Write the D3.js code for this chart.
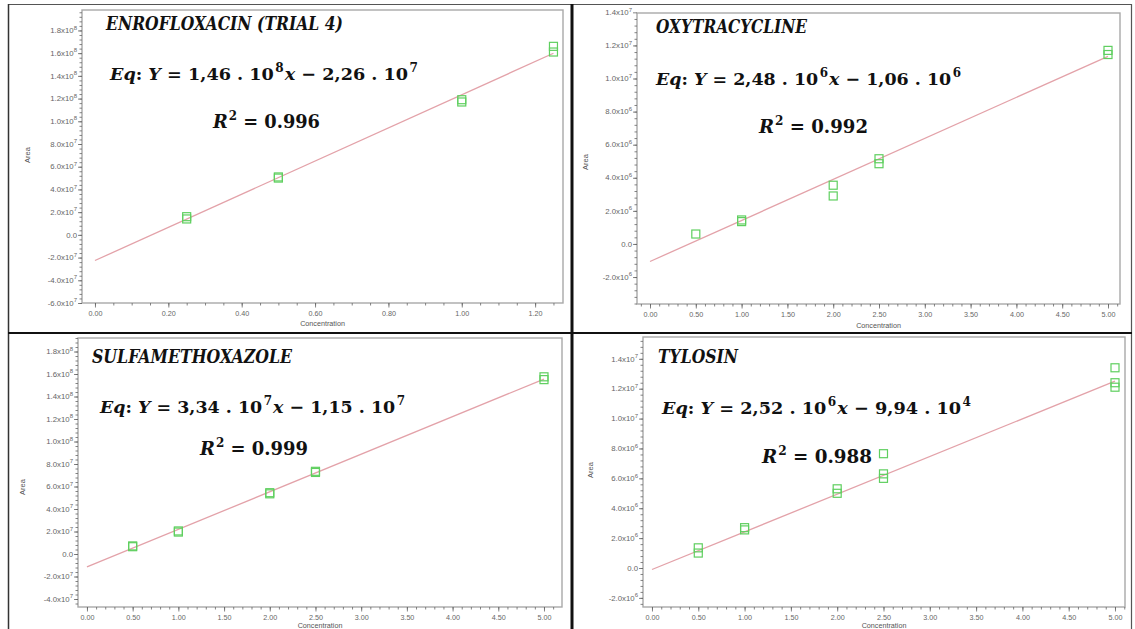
<!DOCTYPE html>
<html><head><meta charset="utf-8">
<script src="https://cdn.jsdelivr.net/npm/d3@7"></script>
<style>body{margin:0;background:#fff}svg{display:block}</style>
</head><body><svg id="c" width="1135" height="629"></svg>
<script>
// ---------------- data ----------------
const titles = ["ENROFLOXACIN (TRIAL 4)", "OXYTRACYCLINE", "SULFAMETHOXAZOLE", "TYLOSIN"];
const slopeMant = ["1,46", "2,48", "3,34", "2,52"];
const slopeExp = ["8", "6", "7", "6"];
const interMant = ["2,26", "1,06", "1,15", "9,94"];
const interExp = ["7", "6", "7", "4"];
const r2Labels = ["0.996", "0.992", "0.999", "0.988"];
const slopes = [1.46e8, 2.48e6, 3.34e7, 2.52e6];
const intercepts = [-2.26e7, -1.06e6, -1.15e7, -9.94e4];
const lineEnd = [1.25, 5, 5, 5];

const enroConc = [0.25, 0.25, 0.5, 0.5, 1.0, 1.0, 1.25, 1.25];
const enroArea = [1.4e7, 1.6e7, 5.0e7, 5.1e7, 1.17e8, 1.19e8, 1.61e8, 1.66e8];
const oxyConc = [0.5, 1, 1, 2, 2, 2.5, 2.5, 5, 5];
const oxyArea = [0.6e6, 1.35e6, 1.45e6, 2.9e6, 3.55e6, 4.85e6, 5.15e6, 11.45e6, 11.7e6];
const sulfaConc = [0.5, 0.5, 1, 1, 2, 2, 2.5, 2.5, 5, 5];
const sulfaArea = [6.5e6, 7.2e6, 19.5e6, 20.5e6, 53.5e6, 54.5e6, 72.5e6, 73.5e6, 155e6, 157.5e6];
const tyloConc = [0.5, 0.5, 1, 1, 2, 2, 2.5, 2.5, 2.5, 5, 5, 5];
const tyloArea = [1.0e6, 1.35e6, 2.55e6, 2.7e6, 5.0e6, 5.3e6, 6.0e6, 6.3e6, 7.65e6, 12.1e6, 12.4e6, 13.4e6];

const enroXTicks = [0, 0.2, 0.4, 0.6, 0.8, 1.0, 1.2];
const fiveXTicks = [0, 0.5, 1, 1.5, 2, 2.5, 3, 3.5, 4, 4.5, 5];
const enroYTicks = [-6e7, -4e7, -2e7, 0, 2e7, 4e7, 6e7, 8e7, 1e8, 1.2e8, 1.4e8, 1.6e8, 1.8e8];
const oxyYTicks = [-2e6, 0, 2e6, 4e6, 6e6, 8e6, 1e7, 1.2e7, 1.4e7];
const sulfaYTicks = [-4e7, -2e7, 0, 2e7, 4e7, 6e7, 8e7, 1e8, 1.2e8, 1.4e8, 1.6e8, 1.8e8];
const tyloYTicks = [-2e6, 0, 2e6, 4e6, 6e6, 8e6, 1e7, 1.2e7, 1.4e7];
const xAxisTitle = "Concentration";
const yAxisTitle = "Area";

// ---------------- layout ----------------
const panels = [
  {conc: enroConc, area: enroArea, xt: enroXTicks, yt: enroYTicks, xMinor: 0.05, yMinor: 4e6,
   rect: [82, 10, 563, 303], xd: [-0.0354, 1.276], yd: [-6e7, 1.98e8],
   title: [106, 30, 237], eq: [110, 80, 308], r2: [213, 128, 107], areaLab: [30, 155], concY: 326},
  {conc: oxyConc, area: oxyArea, xt: fiveXTicks, yt: oxyYTicks, xMinor: 0.1, yMinor: 4e5,
   rect: [637, 13, 1120, 304], xd: [-0.142, 5.131], yd: [-3.63e6, 1.396e7],
   title: [656, 33, 151], eq: [656, 85, 305], r2: [759, 133, 109], areaLab: [588, 162], concY: 328},
  {conc: sulfaConc, area: sulfaArea, xt: fiveXTicks, yt: sulfaYTicks, xMinor: 0.1, yMinor: 4e6,
   rect: [78, 338, 562, 607], xd: [-0.098, 5.197], yd: [-4.71e7, 1.92e8],
   title: [92, 363, 200], eq: [100, 413, 305], r2: [200, 455, 108], areaLab: [25, 487], concY: 628},
  {conc: tyloConc, area: tyloArea, xt: fiveXTicks, yt: tyloYTicks, xMinor: 0.1, yMinor: 4e5,
   rect: [643, 337, 1125, 607], xd: [-0.097, 5.108], yd: [-2.61e6, 1.546e7],
   title: [658, 363, 80], eq: [662, 414, 309], r2: [762, 463, 110], areaLab: [593, 470], concY: 628}
];

const svg = d3.select("#c");
svg.append("rect").attr("width", 1135).attr("height", 629).attr("fill", "#fff");

// outer frame and dividers
const frame = svg.append("g");
frame.append("line").attr("x1", 8).attr("x2", 1132).attr("y1", 4.5).attr("y2", 4.5).attr("stroke", "#555").attr("stroke-width", 1.2);
frame.append("line").attr("x1", 8.5).attr("x2", 8.5).attr("y1", 4).attr("y2", 629).attr("stroke", "#333").attr("stroke-width", 1.5);
frame.append("line").attr("x1", 1131.5).attr("x2", 1131.5).attr("y1", 4).attr("y2", 629).attr("stroke", "#555").attr("stroke-width", 1.2);
frame.append("line").attr("x1", 572).attr("x2", 572).attr("y1", 4).attr("y2", 629).attr("stroke", "#111").attr("stroke-width", 3);
frame.append("line").attr("x1", 8).attr("x2", 1132).attr("y1", 333).attr("y2", 333).attr("stroke", "#111").attr("stroke-width", 2.2);

function fmtTick(v) {
  if (Math.abs(v) < 1e-9) return ["0.0", null];
  const e = Math.floor(Math.log10(Math.abs(v)) + 1e-9);
  const m = v / Math.pow(10, e);
  return [m.toFixed(1) + "x10", String(e)];
}

const serif = "'DejaVu Serif', 'Liberation Serif', serif";
const sans = "'Liberation Sans', Arial, sans-serif";

panels.forEach((p, i) => {
  const [x0, y0, x1, y1] = p.rect;
  const x = d3.scaleLinear().domain(p.xd).range([x0, x1]);
  const y = d3.scaleLinear().domain(p.yd).range([y1, y0]);
  const g = svg.append("g");

  // plot frame
  g.append("rect").attr("x", x0).attr("y", y0).attr("width", x1 - x0).attr("height", y1 - y0)
    .attr("fill", "#fff").attr("stroke", "#a9a9a9").attr("stroke-width", 1.4);

  // minor ticks
  const xMinorTicks = d3.range(Math.ceil(p.xd[0] / p.xMinor), Math.floor(p.xd[1] / p.xMinor) + 1).map(k => k * p.xMinor);
  const yMinorTicks = d3.range(Math.ceil(p.yd[0] / p.yMinor), Math.floor(p.yd[1] / p.yMinor) + 1).map(k => k * p.yMinor);

  const xAxisMinor = d3.axisBottom(x).tickValues(xMinorTicks).tickSize(2.5).tickFormat("");
  const yAxisMinor = d3.axisLeft(y).tickValues(yMinorTicks).tickSize(2.5).tickFormat("");
  const xAxis = d3.axisBottom(x).tickValues(p.xt).tickSize(4.5).tickPadding(3).tickFormat(d3.format(".2f"));
  const yAxis = d3.axisLeft(y).tickValues(p.yt).tickSize(4).tickPadding(1.5).tickFormat("");

  [xAxisMinor, xAxis].forEach(ax => {
    const a = g.append("g").attr("transform", `translate(0,${y1})`).call(ax);
    a.select(".domain").remove();
    a.selectAll("line").attr("stroke", "#666").attr("stroke-width", 0.8);
    a.selectAll("text").attr("font-family", sans).attr("font-size", 7.2).attr("fill", "#666");
  });
  [yAxisMinor, yAxis].forEach(ax => {
    const a = g.append("g").attr("transform", `translate(${x0},0)`).call(ax);
    a.select(".domain").remove();
    a.selectAll("line").attr("stroke", "#666").attr("stroke-width", 0.8);
  });
  // y tick labels with superscript exponent
  const yl = g.append("g").attr("font-family", sans).attr("font-size", 7.8).attr("fill", "#666");
  p.yt.forEach(v => {
    const [base, ex] = fmtTick(v);
    const t = yl.append("text").attr("x", x0 - 5).attr("y", y(v) + 2.7).attr("text-anchor", "end");
    t.append("tspan").text(base);
    if (ex !== null) t.append("tspan").attr("dy", -3.5).attr("font-size", 6).text(ex);
  });

  // axis titles
  g.append("text").attr("transform", `translate(${p.areaLab[0]},${p.areaLab[1]}) rotate(-90)`)
    .attr("text-anchor", "middle").attr("font-family", sans).attr("font-size", 7.5).attr("fill", "#555")
    .text(yAxisTitle);
  g.append("text").attr("x", (x0 + x1) / 2).attr("y", p.concY).attr("text-anchor", "middle")
    .attr("font-family", sans).attr("font-size", 7.2).attr("fill", "#555").text(xAxisTitle);

  // regression line
  const lx = [0, lineEnd[i]];
  g.append("line")
    .attr("x1", x(lx[0])).attr("y1", y(slopes[i] * lx[0] + intercepts[i]))
    .attr("x2", x(lx[1])).attr("y2", y(slopes[i] * lx[1] + intercepts[i]))
    .attr("stroke", "#e3a2a9").attr("stroke-width", 1.3);

  // points
  const pts = p.conc.map((c, k) => [c, p.area[k]]);
  g.selectAll("rect.pt").data(pts).enter().append("rect").attr("class", "pt")
    .attr("x", d => x(d[0]) - 4).attr("y", d => y(d[1]) - 4)
    .attr("width", 8).attr("height", 8)
    .attr("fill", "none").attr("stroke", "#5fcf5f").attr("stroke-width", 1.2);

  // title
  g.append("text").attr("x", p.title[0]).attr("y", p.title[1])
    .attr("font-family", serif).attr("font-weight", "bold").attr("font-style", "italic")
    .attr("font-size", 18).attr("fill", "#111")
    .attr("textLength", p.title[2]).attr("lengthAdjust", "spacingAndGlyphs")
    .text(titles[i]);

  // equation
  const eq = g.append("text").attr("x", p.eq[0]).attr("y", p.eq[1])
    .attr("font-family", serif).attr("font-weight", "bold").attr("font-size", 17.5).attr("fill", "#111")
    .attr("textLength", p.eq[2]).attr("lengthAdjust", "spacingAndGlyphs");
  eq.append("tspan").attr("font-style", "italic").text("Eq");
  eq.append("tspan").text(": ");
  eq.append("tspan").attr("font-style", "italic").text("Y");
  eq.append("tspan").text(" = " + slopeMant[i] + " . 10");
  eq.append("tspan").attr("font-size", 12).attr("dy", -8).attr("dx", 1.5).text(slopeExp[i]);
  eq.append("tspan").attr("font-style", "italic").attr("dy", 8).attr("dx", 1).text("x");
  eq.append("tspan").text(" \u2212 " + interMant[i] + " . 10");
  eq.append("tspan").attr("font-size", 12).attr("dy", -8).attr("dx", 1.5).text(interExp[i]);

  // R^2
  const r = g.append("text").attr("x", p.r2[0]).attr("y", p.r2[1])
    .attr("font-family", serif).attr("font-weight", "bold").attr("font-size", 18).attr("fill", "#111")
    .attr("textLength", p.r2[2]).attr("lengthAdjust", "spacingAndGlyphs");
  r.append("tspan").attr("font-style", "italic").text("R");
  r.append("tspan").attr("font-size", 12).attr("dy", -8).attr("dx", 1).text("2");
  r.append("tspan").attr("dy", 8).text(" = " + r2Labels[i]);
});
</script>
</body></html>
